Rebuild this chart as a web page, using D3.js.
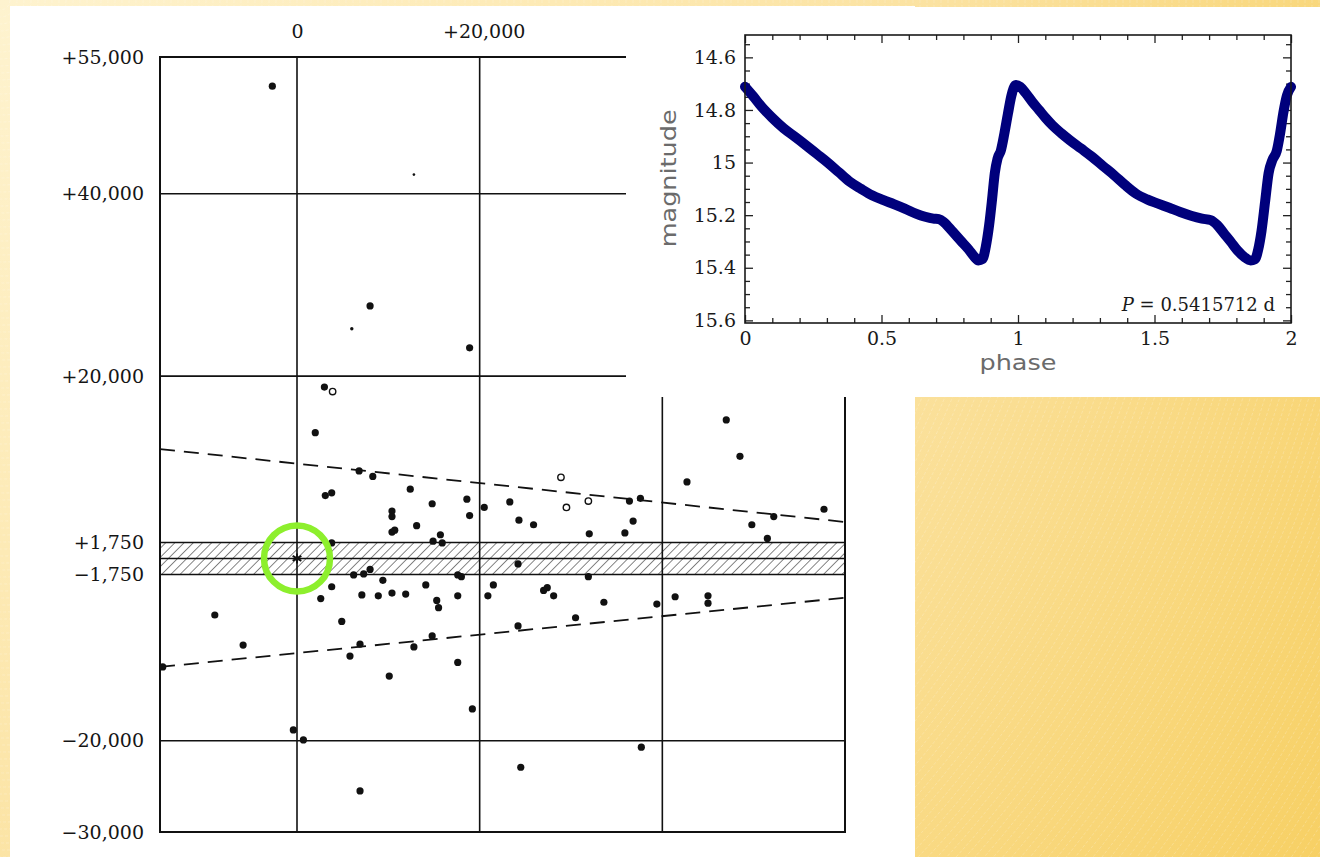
<!DOCTYPE html>
<html>
<head>
<meta charset="utf-8">
<script src="https://cdn.jsdelivr.net/npm/d3@7"></script>
<style>
  body { margin: 0; background: #fff; }
  svg { display: block; }
</style>
</head>
<body>
<div id="container"></div>
<script>
// ---- scatter (old plate) data, same units as the axis labels ----
var dots = [
  [-2700, 51800], [8000, 27700], [18900, 23100], [3000, 18800], [2000, 13800],
  [6800, 9600], [8300, 9000], [3100, 6900], [3800, 7200], [12400, 7600],
  [14800, 6000], [10400, 5200], [10400, 4600], [13100, 3600], [10400, 2900],
  [10700, 3100], [15700, 2600], [14900, 1900], [15900, 1700], [3800, 1700],
  [6200, -1800], [7300, -1700], [8000, -1200], [9400, -2400], [3800, -3100],
  [2600, -4400], [7100, -4000], [8900, -4100], [10400, -3800], [11900, -3900],
  [14100, -2900], [15300, -4600], [15500, -5400], [17600, -4100], [17600, -1800],
  [18600, 6500], [18900, 4700], [20500, 5600], [23300, 6200], [24300, 4200],
  [25900, 3700], [32000, 2700], [36400, 6300], [37600, 6600], [36800, 4100],
  [35900, 2800], [42700, 8400], [47000, 15200], [48500, 11200], [49800, 3700],
  [52200, 4600], [51500, 2200], [57700, 5400], [24200, -600], [18000, -2000],
  [31900, -2000], [20900, -4100], [21500, -2900], [27000, -3500], [27400, -3200],
  [28100, -4100], [33600, -4800], [39400, -5000], [41400, -4200], [45000, -4100],
  [45000, -4900], [-9000, -6200], [-5900, -9500], [-14700, -11900], [4900, -6900],
  [5800, -10700], [6900, -9400], [10100, -12900], [12800, -9700], [14800, -8500],
  [17600, -11400], [-400, -18800], [700, -19900], [6900, -25500], [19200, -16500],
  [24200, -7400], [30500, -6500], [37700, -20700], [24500, -22900]
];
var openDots = [[3900, 18300], [28900, 8900], [29500, 5600], [31900, 6300]];
var smallDots = [[12800, 42100, 1.3], [6000, 25200, 1.7]];
var starPoint = [0, 0];

var yLabelValues = [55000, 40000, 20000, 1750, -1750, -20000, -30000];
var xLabelValues = [0, 20000, 40000];
var xGrid = [0, 20000, 40000];
var yGrid = [40000, 20000, -20000];
var band = [-1750, 1750];
var upperDash = [[-15000, 12000], [60000, 4000]];
var lowerDash = [[-15000, -11900], [60000, -4300]];

// ---- inset light curve ----
var phaseMajor = [0, 0.5, 1, 1.5, 2];
var phaseMinor = [0.1, 0.2, 0.3, 0.4, 0.6, 0.7, 0.8, 0.9, 1.1, 1.2, 1.3, 1.4, 1.6, 1.7, 1.8, 1.9];
var magMajor = [14.6, 14.8, 15, 15.2, 15.4, 15.6];
var magMinor = [14.55, 14.65, 14.7, 14.75, 14.85, 14.9, 14.95, 15.05, 15.1, 15.15,
                15.25, 15.3, 15.35, 15.45, 15.5, 15.55];
var lightCurve = [
  [0.000, 14.712], [0.030, 14.748], [0.061, 14.788], [0.100, 14.830], [0.142, 14.870],
  [0.183, 14.902], [0.223, 14.934], [0.263, 14.967], [0.303, 15.000], [0.344, 15.037],
  [0.384, 15.073], [0.425, 15.100], [0.465, 15.124], [0.505, 15.142], [0.545, 15.158],
  [0.585, 15.175], [0.626, 15.194], [0.660, 15.206], [0.690, 15.213], [0.710, 15.215],
  [0.730, 15.228], [0.760, 15.262], [0.790, 15.297], [0.819, 15.330], [0.840, 15.358],
  [0.855, 15.372], [0.870, 15.367], [0.882, 15.320], [0.894, 15.240], [0.905, 15.140],
  [0.915, 15.040], [0.925, 14.985], [0.937, 14.955], [0.950, 14.890], [0.963, 14.815],
  [0.976, 14.745], [0.992, 14.705],
  [1.008, 14.712], [1.029, 14.737], [1.053, 14.770], [1.077, 14.800], [1.101, 14.830],
  [1.126, 14.858], [1.158, 14.888], [1.190, 14.915], [1.230, 14.946], [1.271, 14.978],
  [1.311, 15.013], [1.352, 15.048], [1.392, 15.085], [1.432, 15.118], [1.473, 15.140],
  [1.513, 15.156], [1.554, 15.172], [1.594, 15.188], [1.634, 15.202], [1.674, 15.213],
  [1.706, 15.219], [1.730, 15.238], [1.755, 15.270], [1.780, 15.302], [1.803, 15.333],
  [1.830, 15.360], [1.852, 15.372], [1.868, 15.368], [1.880, 15.330], [1.892, 15.260],
  [1.905, 15.150], [1.918, 15.040], [1.932, 14.990], [1.948, 14.955], [1.960, 14.890],
  [1.972, 14.810], [1.985, 14.745], [2.000, 14.712]
];

var W = 1320, H = 857;

var svg = d3.select("#container").append("svg")
    .attr("width", W)
    .attr("height", H);

var defs = svg.append("defs");

// slide background
var grad = defs.append("radialGradient")
    .attr("id", "bg")
    .attr("gradientUnits", "userSpaceOnUse")
    .attr("cx", 0).attr("cy", 0).attr("r", 1580);
grad.append("stop").attr("offset", "0").attr("stop-color", "#fef3cf");
grad.append("stop").attr("offset", "0.35").attr("stop-color", "#fdeab5");
grad.append("stop").attr("offset", "0.6").attr("stop-color", "#fbe2a0");
grad.append("stop").attr("offset", "1").attr("stop-color", "#f7d064");

svg.append("rect")
    .attr("width", W).attr("height", H)
    .attr("fill", "url(#bg)");

var arcs = svg.append("g")
    .attr("fill", "none")
    .attr("stroke", "#ffffff")
    .attr("stroke-opacity", 0.3)
    .attr("stroke-width", 0.7)
    .attr("stroke-dasharray", "3,2");
arcs.selectAll("circle")
    .data(d3.range(10, 1600, 7))
  .enter().append("circle")
    .attr("cx", 0).attr("cy", 0)
    .attr("r", function(d) { return d; });

// ---- old plate (scatter) ----
svg.append("rect")
    .attr("x", 10).attr("y", 6)
    .attr("width", 905).attr("height", H - 6)
    .attr("fill", "#fff");

var x = d3.scaleLinear().domain([-15000, 60000]).range([160, 845]);
var y = d3.scaleLinear().domain([-30000, 55000]).range([832, 57]);

var plate = svg.append("g");

var hatch = defs.append("pattern")
    .attr("id", "hatch")
    .attr("patternUnits", "userSpaceOnUse")
    .attr("width", 6.5).attr("height", 6.5)
    .attr("patternTransform", "rotate(45)");
hatch.append("line")
    .attr("x1", 0).attr("y1", 0).attr("x2", 0).attr("y2", 6.5)
    .attr("stroke", "#222").attr("stroke-width", 1.1);

plate.append("rect")
    .attr("x", x(-15000)).attr("y", y(band[1]))
    .attr("width", x(60000) - x(-15000))
    .attr("height", y(band[0]) - y(band[1]))
    .attr("fill", "url(#hatch)");

plate.selectAll(".band-line")
    .data([band[1], 0, band[0]])
  .enter().append("line")
    .attr("x1", x(-15000)).attr("x2", x(60000))
    .attr("y1", function(d) { return y(d); })
    .attr("y2", function(d) { return y(d); })
    .attr("stroke", "#111").attr("stroke-width", 1.5);

plate.selectAll(".vgrid")
    .data(xGrid)
  .enter().append("line")
    .attr("x1", function(d) { return x(d); })
    .attr("x2", function(d) { return x(d); })
    .attr("y1", y(55000)).attr("y2", y(-30000))
    .attr("stroke", "#111").attr("stroke-width", 1.6);

plate.selectAll(".hgrid")
    .data(yGrid)
  .enter().append("line")
    .attr("x1", x(-15000)).attr("x2", x(60000))
    .attr("y1", function(d) { return y(d); })
    .attr("y2", function(d) { return y(d); })
    .attr("stroke", "#111").attr("stroke-width", 1.6);

plate.append("rect")
    .attr("x", x(-15000)).attr("y", y(55000))
    .attr("width", x(60000) - x(-15000))
    .attr("height", y(-30000) - y(55000))
    .attr("fill", "none")
    .attr("stroke", "#111").attr("stroke-width", 2);

var dashLine = d3.line()
    .x(function(d) { return x(d[0]); })
    .y(function(d) { return y(d[1]); });

plate.selectAll(".dash")
    .data([upperDash, lowerDash])
  .enter().append("path")
    .attr("d", dashLine)
    .attr("fill", "none")
    .attr("stroke", "#111")
    .attr("stroke-width", 1.8)
    .attr("stroke-dasharray", "15,9");

plate.selectAll(".dot")
    .data(dots)
  .enter().append("circle")
    .attr("cx", function(d) { return x(d[0]); })
    .attr("cy", function(d) { return y(d[1]); })
    .attr("r", 3.6)
    .attr("fill", "#111");

plate.selectAll(".open")
    .data(openDots)
  .enter().append("circle")
    .attr("cx", function(d) { return x(d[0]); })
    .attr("cy", function(d) { return y(d[1]); })
    .attr("r", 3.2)
    .attr("fill", "#fff")
    .attr("stroke", "#111").attr("stroke-width", 1.4);

plate.selectAll(".small")
    .data(smallDots)
  .enter().append("circle")
    .attr("cx", function(d) { return x(d[0]); })
    .attr("cy", function(d) { return y(d[1]); })
    .attr("r", function(d) { return d[2]; })
    .attr("fill", "#111");

plate.append("path")
    .attr("transform", "translate(" + x(starPoint[0]) + "," + y(starPoint[1]) + ")")
    .attr("d", d3.symbol(d3.symbolAsterisk, 70)())
    .attr("fill", "none")
    .attr("stroke", "#111").attr("stroke-width", 2);

plate.append("circle")
    .attr("cx", x(starPoint[0])).attr("cy", y(starPoint[1]))
    .attr("r", 33)
    .attr("fill", "none")
    .attr("stroke", "#8def2d")
    .attr("stroke-width", 6.5);

function plateFormat(d) {
  if (d === 0) return "0";
  return (d > 0 ? "+" : "\u2212") + d3.format(",")(Math.abs(d));
}

var yAxis = plate.append("g")
    .attr("transform", "translate(" + (x(-15000) - 16) + ",0)")
    .call(d3.axisLeft(y).tickValues(yLabelValues).tickSize(0).tickPadding(0).tickFormat(plateFormat));
yAxis.select(".domain").remove();

var xAxis = plate.append("g")
    .attr("transform", "translate(0," + (y(55000) - 19) + ")")
    .call(d3.axisTop(x).tickValues(xLabelValues).tickSize(0).tickPadding(0).tickFormat(plateFormat));
xAxis.select(".domain").remove();
xAxis.selectAll("text").attr("dx", function(d) { return d === 0 ? 0 : 4; });

plate.selectAll(".tick text")
    .attr("font-family", "DejaVu Serif, serif")
    .attr("font-size", 19)
    .attr("fill", "#151515");

// ---- inset: phased light curve ----
svg.append("rect")
    .attr("x", 626).attr("y", 7)
    .attr("width", W - 626).attr("height", 390)
    .attr("fill", "#fff");

var xi = d3.scaleLinear().domain([0, 2]).range([745, 1291]);
var yi = d3.scaleLinear().domain([14.515, 15.61]).range([35, 323]);

var inset = svg.append("g");

function tickAxis(axis, scale, vals, size, pos, labels) {
  var a = axis(scale).tickValues(vals).tickSizeInner(-size).tickSizeOuter(0).tickPadding(9);
  if (!labels) a.tickFormat("");
  else a.tickFormat(function(d) { return d3.format("")(d); });
  var g = inset.append("g").attr("transform", pos).call(a);
  g.select(".domain").remove();
  g.selectAll("line").attr("stroke", "#222").attr("stroke-width", 1.3);
  return g;
}

var bx = "translate(0," + yi(15.61) + ")", tx = "translate(0," + yi(14.515) + ")";
var lx = "translate(" + xi(0) + ",0)", rx = "translate(" + xi(2) + ",0)";

tickAxis(d3.axisBottom, xi, phaseMajor, 8, bx, true);
tickAxis(d3.axisBottom, xi, phaseMinor, 5, bx, false);
tickAxis(d3.axisTop, xi, phaseMajor, 8, tx, false);
tickAxis(d3.axisTop, xi, phaseMinor, 5, tx, false);
tickAxis(d3.axisLeft, yi, magMajor, 8, lx, true);
tickAxis(d3.axisLeft, yi, magMinor, 5, lx, false);
tickAxis(d3.axisRight, yi, magMajor, 8, rx, false);
tickAxis(d3.axisRight, yi, magMinor, 5, rx, false);

inset.selectAll(".tick text")
    .attr("font-family", "DejaVu Serif, serif")
    .attr("font-size", 19)
    .attr("fill", "#1a1a1a");

inset.append("path")
    .datum(lightCurve)
    .attr("d", d3.line()
        .x(function(d) { return xi(d[0]); })
        .y(function(d) { return yi(d[1]); })
        .curve(d3.curveMonotoneX))
    .attr("fill", "none")
    .attr("stroke", "#00007c")
    .attr("stroke-width", 10)
    .attr("stroke-linecap", "round")
    .attr("stroke-linejoin", "round");

inset.append("rect")
    .attr("x", xi(0)).attr("y", yi(14.515))
    .attr("width", xi(2) - xi(0))
    .attr("height", yi(15.61) - yi(14.515))
    .attr("fill", "none")
    .attr("stroke", "#1a1a1a").attr("stroke-width", 1.6);

inset.append("text")
    .attr("x", xi(1)).attr("y", 370)
    .attr("text-anchor", "middle")
    .attr("font-family", "DejaVu Sans, sans-serif")
    .attr("font-size", 21)
    .attr("fill", "#6b6b6b")
    .attr("textLength", 77)
    .attr("lengthAdjust", "spacingAndGlyphs")
    .text("phase");

inset.append("text")
    .attr("transform", "translate(676," + yi(15.06) + ") rotate(-90)")
    .attr("text-anchor", "middle")
    .attr("font-family", "DejaVu Sans, sans-serif")
    .attr("font-size", 21)
    .attr("fill", "#6b6b6b")
    .attr("textLength", 138)
    .attr("lengthAdjust", "spacingAndGlyphs")
    .text("magnitude");

var pLabel = inset.append("text")
    .attr("x", 1275).attr("y", 311)
    .attr("text-anchor", "end")
    .attr("font-family", "DejaVu Serif, serif")
    .attr("font-size", 18)
    .attr("fill", "#1a1a1a");
pLabel.append("tspan").attr("font-style", "italic").text("P");
pLabel.append("tspan").text(" = 0.5415712 d");
</script>
</body>
</html>
